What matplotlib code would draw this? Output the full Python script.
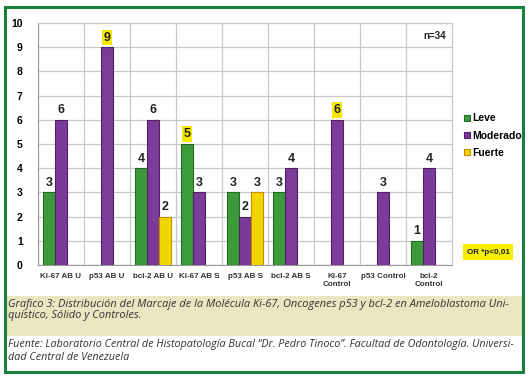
import numpy as np
import matplotlib.pyplot as plt
from matplotlib.patches import Rectangle

# Data
categories = ["Ki-67 AB U", "p53 AB U", "bcl-2 AB U", "Ki-67 AB S", "p53 AB S",
              "bcl-2 AB S", "Ki-67\nControl", "p53 Control", "bcl-2\nControl"]
leve = [3, 0, 4, 5, 3, 3, 0, 0, 1]
moderado = [6, 9, 6, 3, 2, 4, 6, 3, 4]
fuerte = [0, 0, 2, 0, 3, 0, 0, 0, 0]
highlight = {("Moderado", 1), ("Leve", 3), ("Moderado", 6)}

caption = ("Grafico 3: Distribución del Marcaje de la Molécula Ki-67, Oncogenes p53 y bcl-2 en Ameloblastoma Uni-\n"
           "quístico, Sólido y Controles.")
source = ("Fuente: Laboratorio Central de Histopatología Bucal “Dr. Pedro Tinoco”. Facultad de Odontología. Universi-\n"
          "dad Central de Venezuela")

W, H = 529, 377
fig = plt.figure(figsize=(W / 100, H / 100), dpi=100)
fig.patch.set_facecolor("white")

# caption band and green frame
fig.add_artist(Rectangle((5 / W, 1 - 336 / H), 518 / W, 40 / H, transform=fig.transFigure,
                         facecolor="#ebe5c2", edgecolor="none", zorder=0))
fig.add_artist(Rectangle((5 / W, 1 - 372 / H), 518 / W, 365 / H, transform=fig.transFigure,
                         facecolor="none", edgecolor="#16803c", linewidth=2.2, zorder=5))

ax = fig.add_axes([38 / W, 1 - 265 / H, 414 / W, 242 / H])
x = np.arange(len(categories))
w = 0.26
series = [("Leve", leve, "#3d9a3a", "#1f6b22"),
          ("Moderado", moderado, "#7b3b98", "#4e2166"),
          ("Fuerte", fuerte, "#f2d600", "#c98a00")]

for i, (name, vals, col, edge) in enumerate(series):
    pos = x + (i - 1) * w
    ax.bar(pos, vals, width=w * 0.95, color=col, edgecolor=edge, linewidth=0.8,
           label=name, zorder=3)
    for j, v in enumerate(vals):
        if v == 0:
            continue
        box = None
        if (name, j) in highlight:
            box = dict(boxstyle="square,pad=0.15", facecolor="#f5e800", edgecolor="none")
        ax.text(pos[j], v + 0.15, str(v), ha="center", va="bottom", fontsize=9,
                fontweight="bold", color="#222222", family="Liberation Sans", bbox=box, zorder=4)

ax.set_xlim(-0.5, len(categories) - 0.5)
ax.set_ylim(0, 10)
ax.set_yticks(range(11))
ax.set_xticks(x)
ax.set_xticklabels(categories, fontsize=5.8, fontweight="bold", family="Liberation Sans",
                   color="#333333", linespacing=1.1)
for lab in ax.get_yticklabels():
    lab.set_fontsize(7.5)
    lab.set_fontweight("bold")
    lab.set_family("Liberation Sans")
ax.set_xticks(np.arange(len(categories) + 1) - 0.5, minor=True)
ax.grid(True, which="minor", axis="x", color="#c8c8c8", linewidth=0.9, zorder=0)
ax.grid(True, which="major", axis="y", color="#c8c8c8", linewidth=0.9, zorder=0)
ax.tick_params(axis="both", which="both", length=0)
ax.tick_params(axis="x", pad=6)
ax.tick_params(axis="y", pad=11)
for s in ax.spines.values():
    s.set_color("#c8c8c8")
ax.spines["left"].set_color("#999999")
ax.spines["bottom"].set_color("#999999")

ax.text(0.985, 0.965, "n=34", transform=ax.transAxes, ha="right", va="top", fontsize=7,
        fontweight="bold", family="Liberation Sans", color="#222222")

fig.legend(loc="upper left", bbox_to_anchor=(455 / W, 1 - 104 / H), frameon=False,
           prop={"family": "Liberation Sans", "weight": "bold", "size": 7.5},
           handlelength=0.5, handleheight=0.5, handletextpad=0.3, labelspacing=0.7)

fig.text(488 / W, 1 - 252 / H, "OR *p<0,01", ha="center", va="center", fontsize=5.8,
         fontweight="bold", family="Liberation Sans", color="#222222",
         bbox=dict(boxstyle="square,pad=0.5", facecolor="#f5ee00", edgecolor="none"))

fig.text(8 / W, 1 - 299 / H, caption, ha="left", va="top", fontsize=7.95, style="italic",
         family="Open Sans", color="#333333", linespacing=1.0)
fig.text(8 / W, 1 - 339 / H, source, ha="left", va="top", fontsize=7.75, style="italic",
         family="Open Sans", color="#333333", linespacing=1.25)

fig.savefig("out.png", dpi=100)
